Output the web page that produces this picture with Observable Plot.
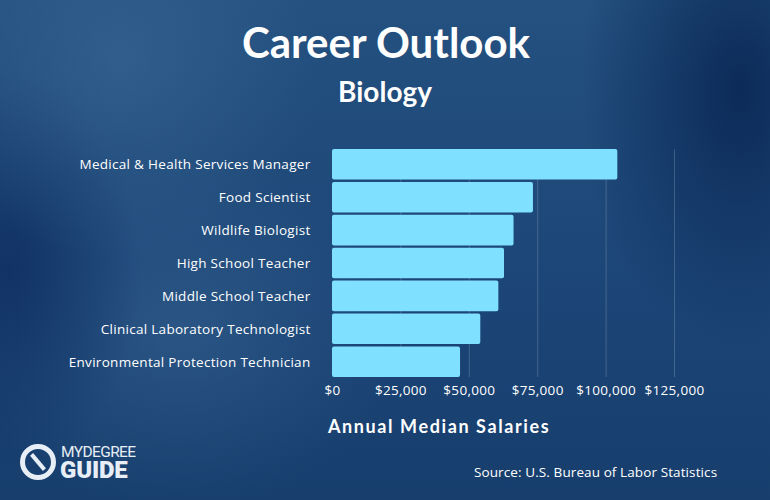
<!DOCTYPE html>
<html>
<head>
<meta charset="utf-8">
<script src="https://cdn.jsdelivr.net/npm/d3@7"></script>
<script src="https://cdn.jsdelivr.net/npm/@observablehq/plot@0.6"></script>
<style>
  html, body { margin: 0; padding: 0; }
  #card {
    position: relative; width: 770px; height: 500px; overflow: hidden;
    font-family: "Open Sans", "DejaVu Sans", sans-serif; color: #fff;
    background:
      radial-gradient(ellipse 160px 260px at 740px 90px, rgba(8,36,82,0.85), rgba(8,36,82,0) 100%),
      radial-gradient(ellipse 200px 200px at 120px 60px, rgba(60,105,150,0.55), rgba(60,105,150,0) 100%),
      radial-gradient(ellipse 130px 200px at 10px 270px, rgba(14,45,95,0.8), rgba(14,45,95,0) 100%),
      radial-gradient(ellipse 220px 180px at 180px 330px, rgba(60,105,150,0.45), rgba(60,105,150,0) 100%),
      linear-gradient(180deg, #24517f 0%, #1c4677 55%, #173e6d 100%);
  }
  #title { position: absolute; left: 0; width: 772px; top: 17px; text-align: center;
    font-family: "Lato", sans-serif; font-weight: 700; font-size: 42px; line-height: 50px; }
  #subtitle { position: absolute; left: 0; width: 770px; top: 74px; text-align: center;
    font-family: "Lato", sans-serif; font-weight: 700; font-size: 28px; line-height: 34px; }
  #chart { position: absolute; left: 0; top: 140px; }
  #xlabel { position: absolute; left: 328px; top: 415px; font-family: "Lato", sans-serif;
    font-weight: 700; font-size: 18px; letter-spacing: 1.6px; white-space: nowrap; }
  #source { position: absolute; left: 474px; top: 463px; font-size: 13.5px; letter-spacing: 0.1px; white-space: nowrap; }
  #logo { position: absolute; left: 20px; top: 441px; }
  #logo .ring { position: absolute; left: 0; top: 3px; width: 26px; height: 26px; border: 5px solid #e8eef5;
    border-radius: 50%; }
  #logo .ring::after { content: ""; position: absolute; left: 11px; top: 3px; width: 4px; height: 20px;
    background: #e8eef5; transform: rotate(-40deg); }
  #logo .txt { position: absolute; left: 40px; top: 3px; font-family: "Roboto", sans-serif; white-space: nowrap;
    color: #e8eef5; line-height: 15px; }
  #logo .t1 { font-size: 15.5px; letter-spacing: -0.6px; padding-left: 1px; }
  #logo .t2 { font-size: 24px; font-weight: 900; letter-spacing: -0.2px; line-height: 20px; }
</style>
</head>
<body>
<div id="card">
  <div id="title">Career Outlook</div>
  <div id="subtitle">Biology</div>
  <div id="chart"></div>
  <div id="xlabel">Annual Median Salaries</div>
  <div id="source">Source: U.S. Bureau of Labor Statistics</div>
  <div id="logo"><div class="ring"></div><div class="txt"><span class="t1">MYDEGREE</span><br><span class="t2">GUIDE</span></div></div>
</div>
<script>
const careers = [
  "Medical & Health Services Manager",
  "Food Scientist",
  "Wildlife Biologist",
  "High School Teacher",
  "Middle School Teacher",
  "Clinical Laboratory Technologist",
  "Environmental Protection Technician"
];
const salaries = [104280, 73450, 66350, 62870, 60800, 54200, 46800];
const xTicks = [0, 25000, 50000, 75000, 100000, 125000];

const data = careers.map((c, i) => ({career: c, salary: salaries[i]}));
const fmt = d3.format("$,");

const plot = Plot.plot({
  width: 770,
  height: 270,
  marginLeft: 332,
  marginRight: 96,
  marginTop: 9,
  marginBottom: 33,
  style: {background: "transparent", color: "#fff", fontFamily: "'Open Sans', sans-serif", fontSize: "13.5px", letterSpacing: "0.3px"},
  x: {domain: [0, 125000], ticks: xTicks, tickFormat: fmt, label: null},
  y: {domain: careers, label: null, paddingInner: 0.07, paddingOuter: 0, round: false},
  marks: [
    Plot.gridX(xTicks.slice(1), {stroke: "#ffffff", strokeOpacity: 0.18, strokeWidth: 1}),
    Plot.barX(data, {x: "salary", y: "career", fill: "#7fe0ff", rx: 2}),
    Plot.axisX({ticks: xTicks, tickFormat: fmt, tickSize: 0, tickPadding: 8, label: null, fill: "#fff", fontSize: 13.5}),
    Plot.axisY({tickSize: 0, tickPadding: 22, label: null, fill: "#fff", fontSize: 13.5})
  ]
});
document.getElementById("chart").appendChild(plot);
</script>
</body>
</html>
